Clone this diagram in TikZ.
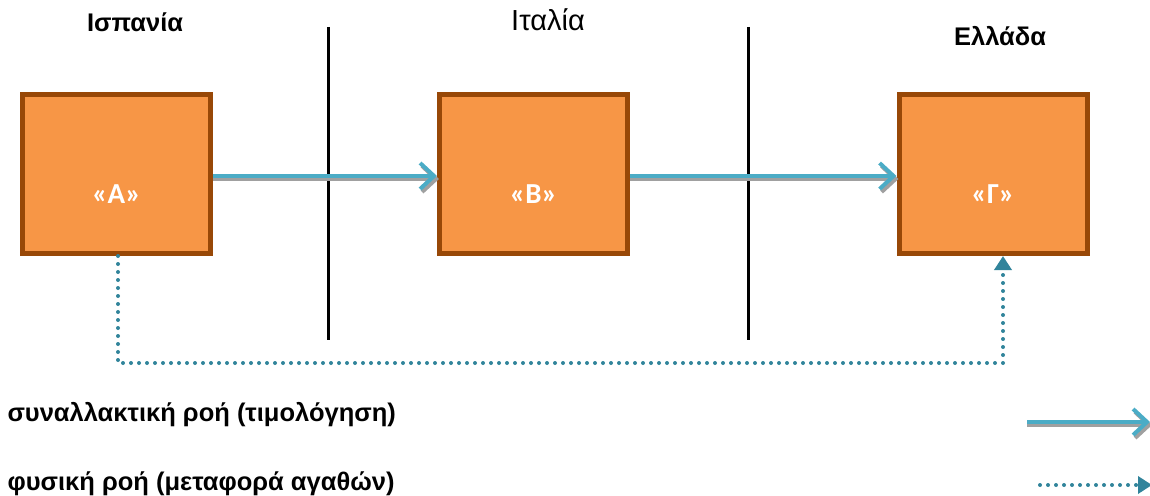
\documentclass[tikz,border=0pt]{standalone}
\usepackage{fontspec}
\setmainfont{Liberation Sans}
\newfontfamily\calibri{Carlito}
\usetikzlibrary{arrows.meta}
\definecolor{boxfill}{HTML}{F79646}
\definecolor{boxline}{HTML}{984807}
\definecolor{flow}{HTML}{4BACC6}
\definecolor{flowshade}{HTML}{A0A0A0}
\definecolor{goods}{HTML}{31849B}
\tikzset{
	firm/.style={draw=boxline,fill=boxfill,line width=5pt,minimum width=188pt,minimum height=159pt,inner sep=0pt},
	firmlbl/.style={text=white,font=\calibri\bfseries\fontsize{29}{31}\selectfont,yshift=-20pt},
	country/.style={font=\bfseries\fontsize{25.5}{28}\selectfont},
	legend/.style={font=\bfseries\fontsize{25.5}{28}\selectfont,anchor=west},
	invoice/.style={flow,line width=4pt,-{Straight Barb[length=14pt,width=26pt]}},
	invoiceshade/.style={flowshade,line width=4pt,-{Straight Barb[length=14pt,width=26pt]}},
	goodsflow/.style={goods,line width=4pt,line cap=round,dash pattern=on 0pt off 8pt,-{Triangle[length=14pt,width=17pt]}}
}
\begin{document}
\begin{tikzpicture}[x=1pt,y=-1pt]
			\useasboundingbox (0,0) rectangle (1150,495);
			\node[country] (es) at (135,22) {Ισπανία};
			\node[country,font=\fontsize{29}{31}\selectfont] (it) at (548,20) {Ιταλία};
			\node[country] (gr) at (1000,36) {Ελλάδα};
			\draw[line width=3pt] (328,27) -- (328,340);
			\draw[line width=3pt] (748,27) -- (748,340);
				\node[firm,label={[firmlbl]center:«A»}] (A) at (116.5,174) {};
				\node[firm,label={[firmlbl]center:«B»}] (B) at (533.5,174) {};
				\node[firm,label={[firmlbl]center:«Γ»}] (G) at (993,174) {};
			\draw[invoiceshade] ([yshift=-5pt]A.east) -- ([xshift=2pt,yshift=-5pt]B.west);
			\draw[invoice] ([yshift=-2pt]A.east) -- ([yshift=-2pt]B.west);
			\draw[invoiceshade] ([yshift=-5pt]B.east) -- ([xshift=2pt,yshift=-5pt]G.west);
			\draw[invoice] ([yshift=-2pt]B.east) -- ([yshift=-2pt]G.west);
			\draw[goodsflow] ([xshift=1.5pt]A.south) -- ++(0,107) -| ([xshift=10pt]G.south);
				\node[legend] (l1) at (4,415) {συναλλακτική ροή (τιμολόγηση)};
				\node[legend] (l2) at (4,484) {φυσική ροή (μεταφορά αγαθών)};
				\coordinate (s1) at (1027,422);
				\coordinate (e1) at (1150,422);
				\coordinate (s2) at (1040,485);
				\coordinate (e2) at (1152,485);
			\draw[invoiceshade] ([yshift=-3pt]s1) -- ([xshift=2pt,yshift=-3pt]e1);
			\draw[invoice] (s1) -- (e1);
			\draw[goodsflow] (s2) -- (e2);
		\end{tikzpicture}
\end{document}
